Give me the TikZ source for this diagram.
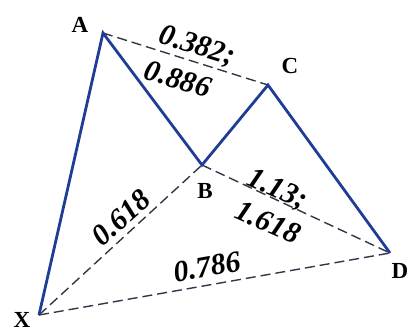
\documentclass[tikz,border=0pt]{standalone}
\usepackage{fontspec}
\setmainfont{Liberation Serif}
\usepackage{xcolor}
\definecolor{legblue}{HTML}{1F3C96}
\definecolor{ratiogray}{HTML}{33364A}
\usetikzlibrary{calc}

\begin{document}
\begin{tikzpicture}[x=1pt, y=-1pt,
    leg/.style={draw=legblue, line width=2.8pt, line join=miter},
    ratioline/.style={draw=ratiogray, line width=1.4pt, dash pattern=on 10pt off 5pt},
    pointlbl/.style={font=\bfseries\fontsize{23}{23}\selectfont, inner sep=1pt},
    ratiolbl/.style={font=\bfseries\itshape\fontsize{30}{30}\selectfont, inner sep=0pt}]

  \useasboundingbox (0,0) rectangle (409,333);

  % Pattern points
  \coordinate (X) at (39,315);
  \coordinate (A) at (103,33);
  \coordinate (B) at (202,165);
  \coordinate (C) at (268,85);
  \coordinate (D) at (390,253);

  % Fibonacci ratios
  \draw[ratioline] (A) -- (C);
  \draw[ratioline] (X) -- (B);
  \draw[ratioline] (B) -- (D);
  \draw[ratioline] (X) -- (D);

  % XABCD legs
  \draw[leg] (X) -- (A) -- (B) -- (C) -- (D);

  % Point names
  \node[pointlbl] (nA) at (80,25) {A};
  \node[pointlbl] (nC) at (290,66) {C};
  \node[pointlbl] (nB) at (205,191) {B};
  \node[pointlbl] (nD) at (400,271) {D};
  \node[pointlbl] (nX) at (22,320) {X};

  % Ratio values
  \node[ratiolbl, rotate=-17] (rAC) at (197,47) {0.382;};
  \node[ratiolbl, rotate=-17] (rAB) at (178,79) {0.886};
  \node[ratiolbl, rotate=-24] (rBD) at (277,190) {1.13;};
  \node[ratiolbl, rotate=-24] (rCD) at (268,222) {1.618};
  \node[ratiolbl, rotate=42] (rXB) at (121,218) {0.618};
  \node[ratiolbl, rotate=10] (rXD) at (207,267) {0.786};

\end{tikzpicture}
\end{document}
